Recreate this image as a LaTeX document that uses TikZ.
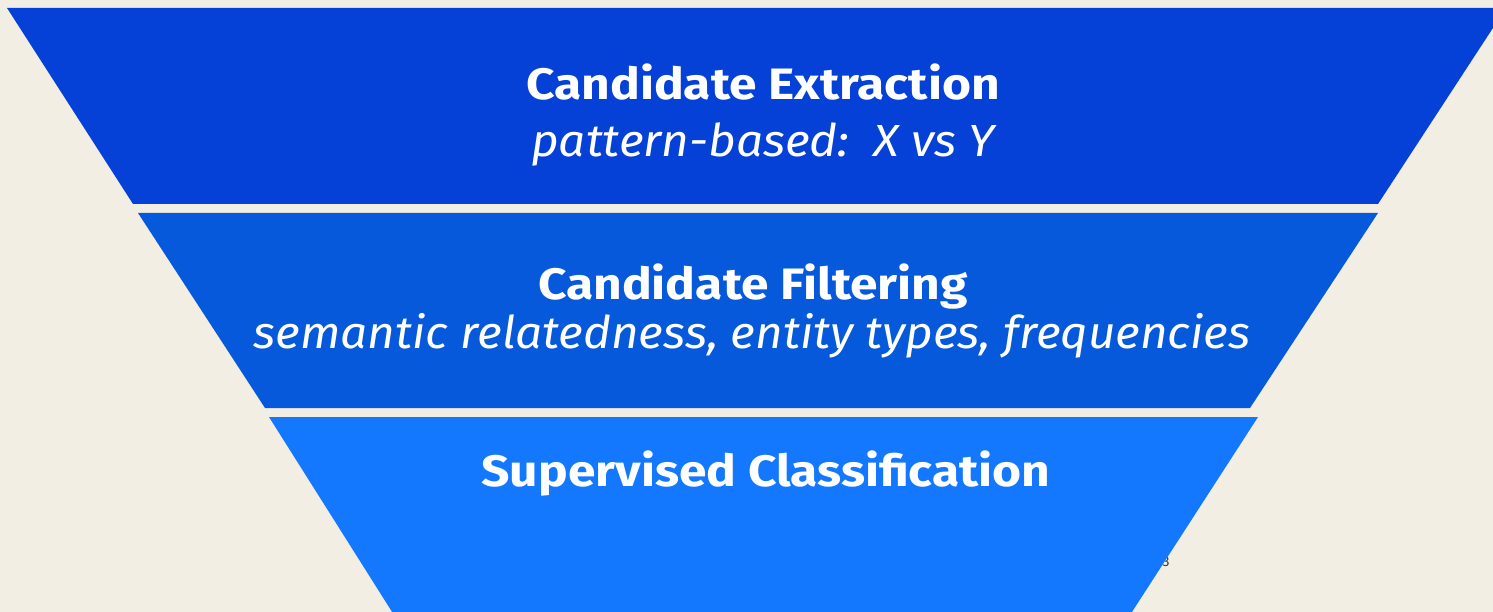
\documentclass[tikz,border=0pt]{standalone}
\usepackage{fontspec}
\setmainfont{Fira Sans}
\newfontfamily\headfont[FakeStretch=1.13]{Fira Sans Bold}
\newfontfamily\subfont[FakeStretch=1.06]{Fira Sans Italic}
\definecolor{bgbeige}{HTML}{F2EEE4}
\definecolor{bandA}{HTML}{0540D7}
\definecolor{bandB}{HTML}{0559DA}
\definecolor{bandC}{HTML}{1478FE}
\definecolor{pagenum}{HTML}{3A3A3A}
\tikzset{
  band/.style={draw=none},
  headtext/.style={text=white, anchor=base, inner sep=0pt, font=\headfont\fontsize{44}{50}\selectfont},
  subtext/.style={text=white, anchor=base, inner sep=0pt, font=\subfont\fontsize{45}{52}\selectfont},
}
\begin{document}
\begin{tikzpicture}[x=1pt,y=-1pt]
  \useasboundingbox (0,0) rectangle (1493,612);
  \clip (0,0) rectangle (1493,612);
  \fill[bgbeige] (0,0) rectangle (1493,612);

  % page number, partly hidden behind the last stage
  \node[text=pagenum, font=\fontsize{14}{16}\selectfont, anchor=base] (pnum) at (1166,566) {3};

  % funnel stages
  \fill[bandA, band] (7,8) -- (1506,8) -- (1378,204) -- (133,204) -- cycle;
  \fill[bandB, band] (138,213) -- (1378,213) -- (1250,408) -- (265,408) -- cycle;
  \fill[bandC, band] (269,417) -- (1258,417) -- (1130,615) -- (394,615) -- cycle;

  % stage labels
  \node[headtext] (extr) at (763,100) {Candidate Extraction};
  \node[subtext] (extrsub) at (763,157) {pattern-based:\ \ X vs Y};
  \node[headtext] (filt) at (753,299) {Candidate Filtering};
  \node[subtext] (filtsub) at (752,348) {semantic relatedness, entity types, frequencies};
  \node[headtext] (clf) at (766,486) {Supervised Classification};
\end{tikzpicture}
\end{document}
